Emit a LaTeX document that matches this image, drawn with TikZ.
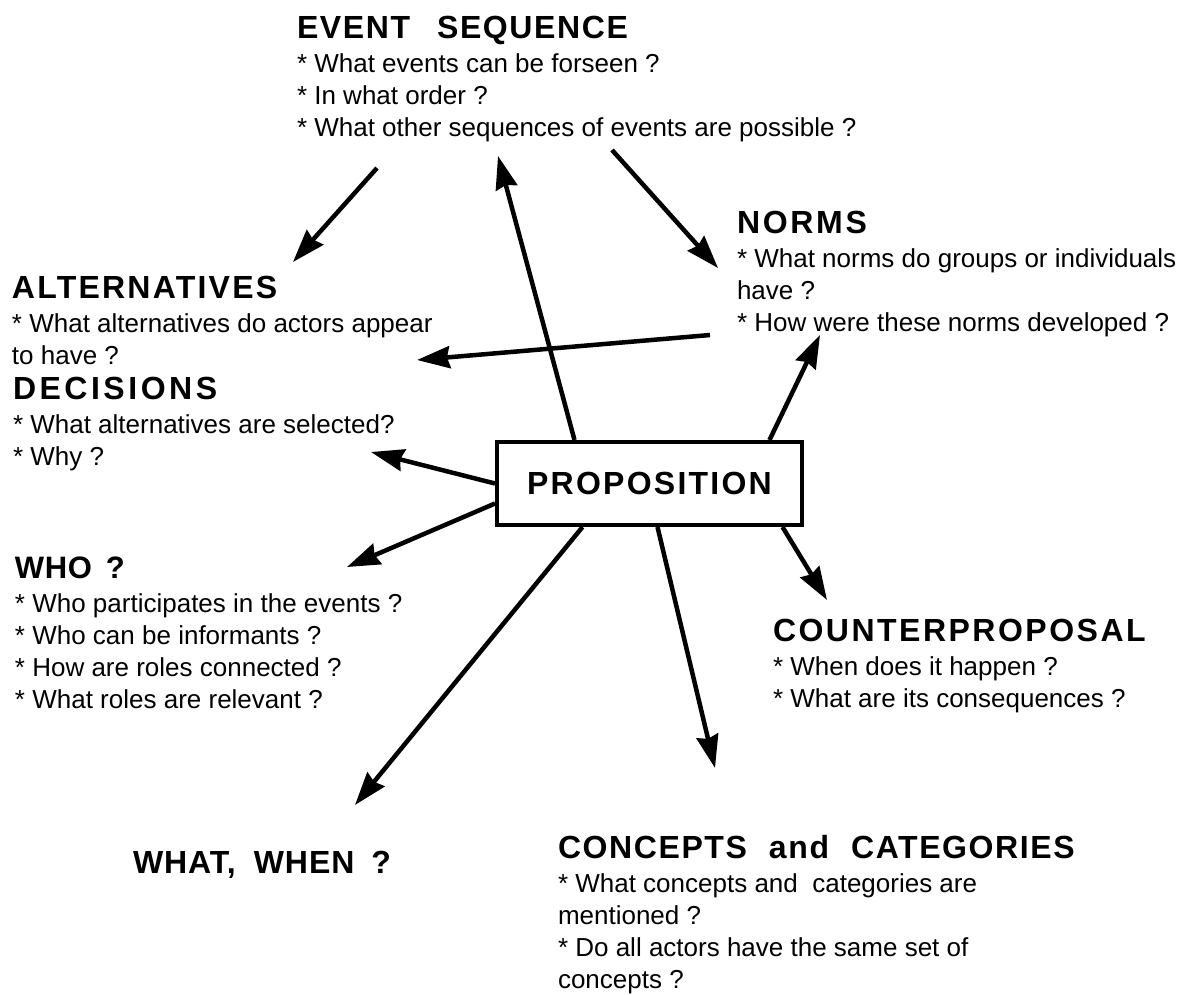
\documentclass[tikz,border=0pt]{standalone}
\usepackage{fontspec}
\setmainfont{Liberation Sans}
\usetikzlibrary{arrows.meta}

% faces: question lines and bold, letter-spaced headings
\newcommand\bodyface{\fontsize{26}{32}\selectfont}
\newcommand\headface[2]{\fontsize{#1}{32}\selectfont\bfseries\addfontfeatures{LetterSpace=#2}}
% one question line
\newcommand\ql[1]{\hbox{\bodyface #1}}
% a block: heading (size, spacing, text), then its question lines;
% the node's base is the heading's baseline
\newcommand\qblock[4]{\vtop{\lineskiplimit=-\maxdimen\baselineskip=32pt
  \hbox{\headface{#1}{#2}#3}\vskip2pt
  \bodyface #4}}

\tikzset{
  arr/.style={line width=4.5pt, -{Stealth[length=33pt,width=22pt,inset=3pt]}},
  blk/.style={anchor=base west, inner sep=0pt, outer sep=0pt},
  propbox/.style={draw, line width=4pt, minimum width=305pt, minimum height=83pt, inner sep=0pt}
}

\begin{document}
\begin{tikzpicture}[x=1pt, y=-1pt]
\fill[white] (0,0) rectangle (1184,994);
\useasboundingbox (0,0) rectangle (1184,994);

% text blocks
\node[blk] (evt) at (297,38) {\qblock{32}{5}{EVENT\hspace{27pt}SEQUENCE}{%
  \ql{* What events can be forseen ?}%
  \ql{* In what order ?}%
  \ql{* What other sequences of events are possible ?}}};

\node[blk] (norms) at (737,233) {\qblock{32}{8.5}{NORMS}{%
  \ql{* What norms do groups or individuals}%
  \ql{have ?}%
  \ql{* How were these norms developed ?}}};

\node[blk] (alt) at (12,298) {\qblock{32}{7}{ALTERNATIVES}{%
  \ql{* What alternatives do actors appear}%
  \ql{to have ?}}};

\node[blk] (dec) at (13,399) {\qblock{32}{11}{DECISIONS}{%
  \ql{* What alternatives are selected?}%
  \ql{* Why ?}}};

\node[blk] (who) at (15,578) {\qblock{31}{2}{WHO\hspace{14pt}?}{%
  \ql{* Who participates in the events ?}%
  \ql{* Who can be informants ?}%
  \ql{* How are roles connected ?}%
  \ql{* What roles are relevant ?}}};

\node[blk] (counter) at (773,641) {\qblock{32}{7.8}{COUNTERPROPOSAL}{%
  \ql{* When does it happen ?}%
  \ql{* What are its consequences ?}}};

\node[blk] (concepts) at (558,858) {\qblock{32}{5}{CONCEPTS\hspace{22pt}and\hspace{22pt}CATEGORIES}{%
  \ql{* What concepts and~ categories are}%
  \ql{mentioned ?}%
  \ql{* Do all actors have the same set of}%
  \ql{concepts ?}}};

\node[blk] (whatwhen) at (133,873) {\headface{32}{3}WHAT,\hspace{18pt}WHEN\hspace{17pt}?};

% central box
\node[propbox] (prop) at (649.5,483.5) {\headface{32}{7}PROPOSITION};

% arrow ends
\coordinate (evtFoot) at (377,168);
\coordinate (altHead) at (293,262);
\coordinate (evtHead) at (498,156);
\coordinate (evtFootR) at (612,150);
\coordinate (normsHead) at (718,268);
\coordinate (normsFoot) at (710,335);
\coordinate (altHeadR) at (417,360);
\coordinate (normsHeadB) at (820,335);
\coordinate (decHead) at (371,452);
\coordinate (whoHead) at (347,567);
\coordinate (whatHead) at (355,805);
\coordinate (conHead) at (715,768);
\coordinate (cntHead) at (827,600);

% connectors
\draw[arr] (evtFoot) -- (altHead);
\draw[arr] ([xshift=-75pt]prop.north) -- (evtHead);
\draw[arr] (evtFootR) -- (normsHead);
\draw[arr] (normsFoot) -- (altHeadR);
\draw[arr] ([xshift=120pt]prop.north) -- (normsHeadB);
\draw[arr] (prop.west) -- (decHead);
\draw[arr] ([yshift=-20pt]prop.west) -- (whoHead);
\draw[arr] ([xshift=-67pt]prop.south) -- (whatHead);
\draw[arr] ([xshift=8pt]prop.south) -- (conHead);
\draw[arr] ([xshift=133pt]prop.south) -- (cntHead);
\end{tikzpicture}
\end{document}
